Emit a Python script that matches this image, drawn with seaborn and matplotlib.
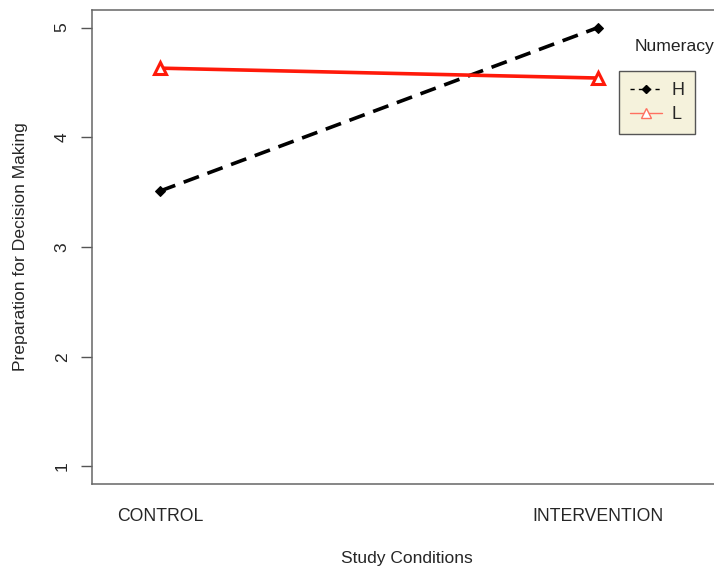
import pandas as pd
import matplotlib.pyplot as plt
import seaborn as sns
from matplotlib.lines import Line2D

conditions = ['CONTROL', 'INTERVENTION']
levels = ['H', 'L']
h_values = [3.51, 5.00]
l_values = [4.63, 4.54]

df = pd.DataFrame({
    'condition': conditions * 2,
    'Numeracy': ['H'] * 2 + ['L'] * 2,
    'score': h_values + l_values,
})

sns.set_style('white')
plt.rcParams['font.family'] = ['Liberation Sans', 'DejaVu Sans']

fig = plt.figure(figsize=(7.14, 5.68), dpi=100)
ax = fig.add_axes([92 / 714, 84 / 568, 630 / 714, 474 / 568])

sns.lineplot(data=df, x='condition', y='score', hue='Numeracy', style='Numeracy',
             palette={'H': 'black', 'L': '#ff1a0a'},
             markers={'H': 'D', 'L': '^'},
             dashes={'H': (4.5, 2.5), 'L': ''},
             linewidth=2.6, legend=False, ax=ax)

for line, lvl in zip(ax.lines, levels):
    if lvl == 'H':
        line.set_markersize(5)
        line.set_markerfacecolor('black')
        line.set_markeredgecolor('black')
    else:
        line.set_markersize(9)
        line.set_markerfacecolor('white')
        line.set_markeredgecolor('#ff1a0a')
        line.set_markeredgewidth(2.2)

# x: CONTROL at 160px, INTERVENTION at 598px
ax.set_xlim(-68 / 438, 1 + 124 / 438)
ax.set_ylim(0.84, 5.16)
ax.set_yticks([1, 2, 3, 4, 5])
ax.set_yticklabels(['1', '2', '3', '4', '5'], rotation=90, va='center')
ax.set_xticks([0, 1])
ax.set_xticklabels(conditions)

ax.tick_params(axis='y', direction='out', length=8, width=1, color='#555555',
               labelsize=12.5, pad=8, left=True)
ax.tick_params(axis='x', length=0, labelsize=12.7, pad=17)
for sp in ax.spines.values():
    sp.set_color('#666666')
    sp.set_linewidth(1.1)

ax.set_xlabel('Study Conditions', fontsize=12.5, labelpad=19)
ax.set_ylabel('Preparation for Decision Making', fontsize=12.6, labelpad=19)

# legend
handles = [
    Line2D([], [], color='black', linestyle=(0, (3, 3)), linewidth=1, marker='D',
           markersize=4, markerfacecolor='black'),
    Line2D([], [], color='#ff7060', linewidth=1, marker='^', markersize=7,
           markerfacecolor='white', markeredgecolor='#ff7060'),
]
leg = ax.legend(handles, levels, loc='upper left',
                bbox_to_anchor=((619 - 92) / 630, 1 - 61 / 474),
                frameon=True, fancybox=False, fontsize=13, handlelength=1.8,
                borderpad=0.6, labelspacing=0.4, handletextpad=0.5,
                borderaxespad=0)
leg.get_frame().set_facecolor('#f5f2dc')
leg.get_frame().set_edgecolor('#555555')
leg.get_frame().set_alpha(1)
ax.text((674 - 92) / 630, 1 - 37 / 474, 'Numeracy', transform=ax.transAxes,
        ha='center', va='center', fontsize=12.6, color='#222222')

fig.savefig('out.png', dpi=100)
